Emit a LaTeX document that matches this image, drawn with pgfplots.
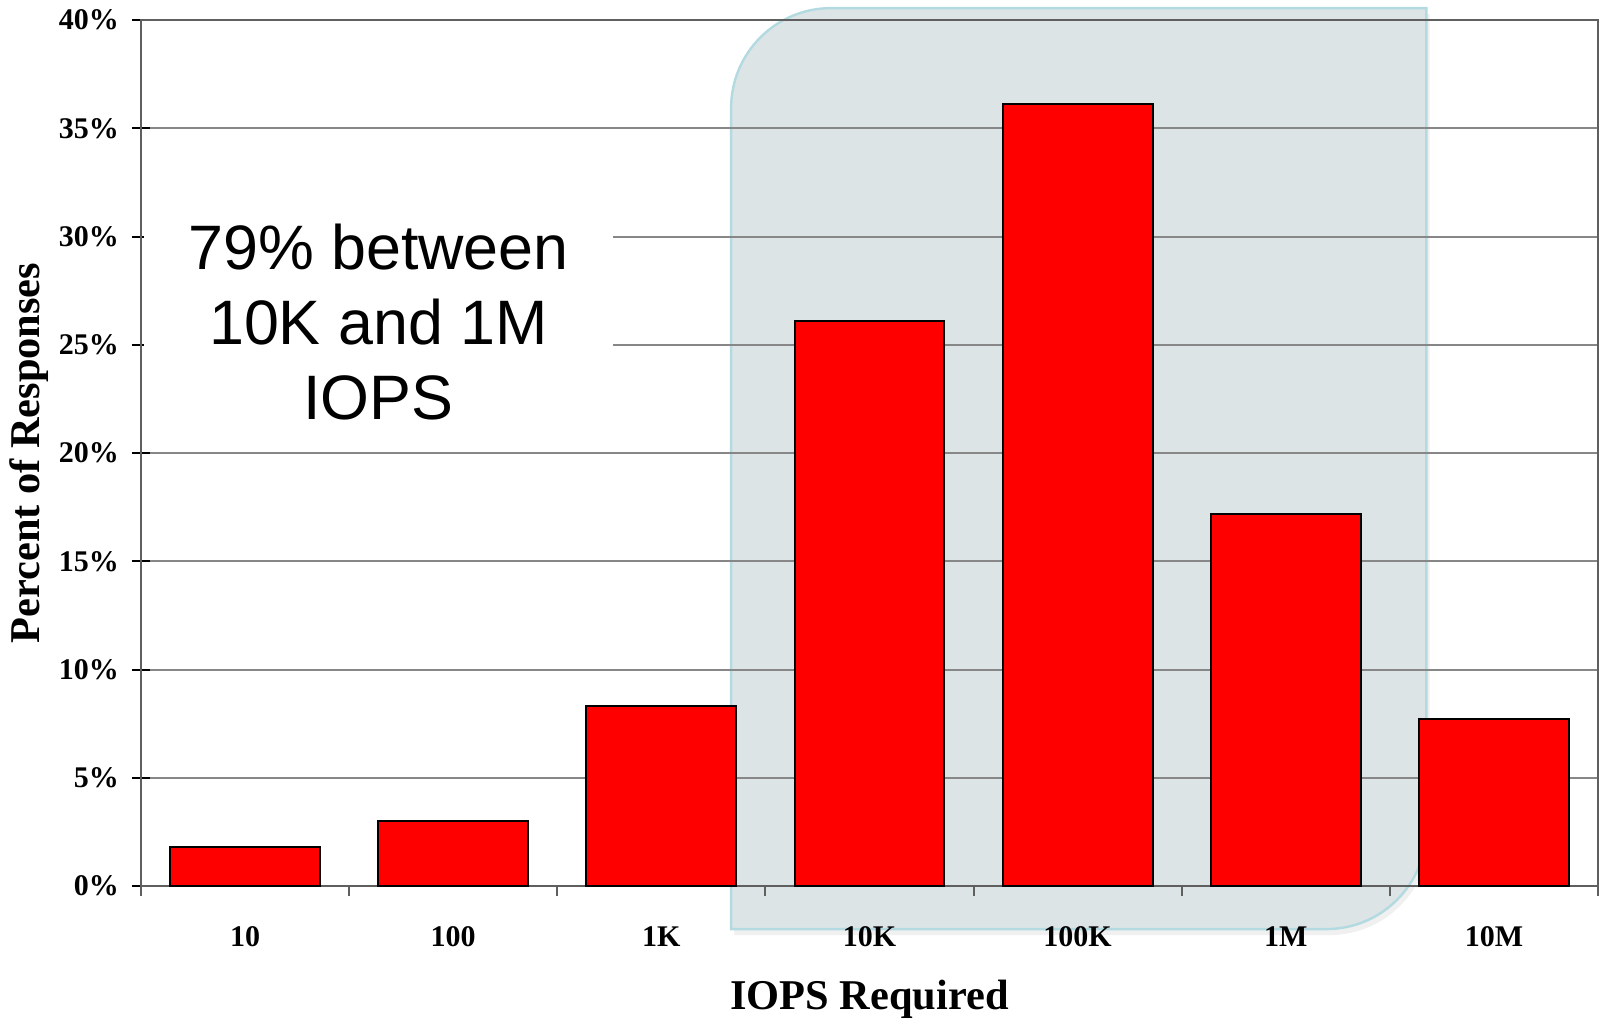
\documentclass[border=0pt]{standalone}
\usepackage{pgfplots}
\pgfplotsset{compat=1.18}
\usepackage{fontspec}
\setmainfont{Liberation Serif}
\newfontfamily\arialfont{Liberation Sans}
\usetikzlibrary{shadows}
\definecolor{barred}{RGB}{255,0,0}
\definecolor{shadefill}{RGB}{220,228,230}
\definecolor{shadeedge}{RGB}{178,218,224}
\definecolor{gridgray}{RGB}{135,135,135}
\definecolor{axisgray}{RGB}{95,95,95}

\begin{document}
\begin{tikzpicture}
\begin{axis}[
    set layers,
    scale only axis,
    width=364.25pt, height=216.5pt,
    xmin=-0.5, xmax=6.5, ymin=0, ymax=40,
    clip=false,
    ybar, bar width=0.72,
    axis line style={axisgray, line width=0.6pt},
    tick pos=left,
    % categories at 0..6, ticks drawn between them
    xtick={0,...,6},
    xticklabels={10,100,1K,10K,100K,1M,10M},
    major x tick style={draw=none},
    minor xtick={-0.5,0.5,...,6.5},
    minor tick length=2.5pt,
    minor x tick style={axisgray, line width=0.5pt, yshift=-1.25pt},
    ytick={0,5,...,40},
    yticklabels={0\%,5\%,10\%,15\%,20\%,25\%,30\%,35\%,40\%},
    major tick length=4.6pt,
    tick align=center,
    major y tick style={black, line width=0.5pt},
    ymajorgrids=true,
    grid style={gridgray, line width=0.5pt},
    tick label style={font=\bfseries\fontsize{7.5}{9}\selectfont},
    xticklabel style={anchor=center, yshift=-10.3pt},
    yticklabel style={anchor=east, inner sep=0pt, xshift=-3pt},
    label style={font=\bfseries\fontsize{10.6}{12}\selectfont},
    xlabel={IOPS Required},
    xlabel style={at={(axis description cs:0.5,-0.1305)}, anchor=center},
    ylabel={Percent of Responses},
    ylabel style={at={(axis description cs:-0.077,0.5)}, anchor=center},
]

% highlighted band behind 10K .. 1M
\begin{pgfonlayer}{axis background}
\path[fill=shadefill, draw=shadeedge, line width=0.6pt,
      drop shadow={opacity=0.12, shadow xshift=0.8pt, shadow yshift=-1.5pt}]
    (axis cs:2.335,-1.99)
    -- ([yshift=-25pt]axis cs:2.335,40.55)
    arc[start angle=180, end angle=90, radius=25pt]
    -- (axis cs:5.675,40.55)
    -- ([yshift=25pt]axis cs:5.675,-1.99)
    arc[start angle=0, end angle=-90, radius=25pt]
    -- cycle;
\end{pgfonlayer}

\addplot[fill=barred, draw=black, line width=0.5pt] coordinates {
    (0,1.8) (1,3.0) (2,8.3) (3,26.1) (4,36.1) (5,17.2) (6,7.7)
};

\node[fill=white, inner sep=0pt, minimum width=117.25pt, minimum height=60pt,
      align=center, font=\arialfont\fontsize{15.7}{18.75}\selectfont]
    at (axis cs:0.641,26.05) {79\% between\\10K and 1M\\IOPS};
\end{axis}
\pgfresetboundingbox
\path[use as bounding box] (-35.25pt,-33.75pt) rectangle (365pt,221.5pt);
\end{tikzpicture}
\end{document}
